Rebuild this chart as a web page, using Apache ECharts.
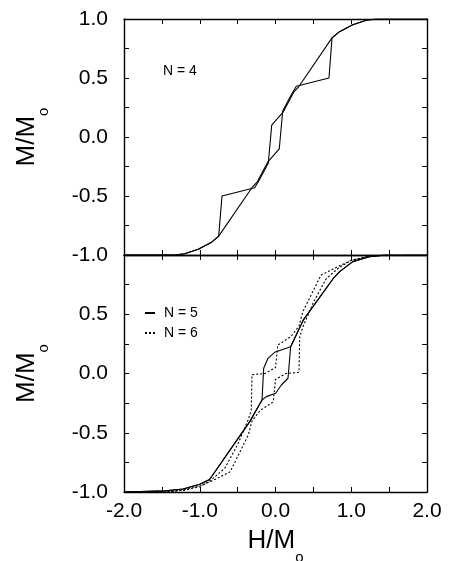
<!DOCTYPE html>
<html><head><meta charset="utf-8">
<script src="https://cdn.jsdelivr.net/npm/echarts@6/dist/echarts.min.js"></script>
<style>html,body{margin:0;padding:0;background:#fff}#c{width:449px;height:561px}</style>
</head><body><div id="c"></div>
<script>
// ---- data (H/Mo, M/Mo) ----
const n4Up = [[-2,-1],[-1.33,-1],[-1.2,-0.989],[-1.02,-0.952],[-0.85,-0.895],[-0.75,-0.84],[-0.30,-0.42],[-0.24,-0.38],[-0.10,-0.21],[0.05,-0.10],[0.095,0.22],[0.21,0.36],[0.275,0.43],[0.706,0.50],[0.746,0.84],[0.85,0.895],[1.02,0.952],[1.2,0.989],[1.33,1],[2,1]];
const n4Down = [[2,1],[1.33,1],[1.2,0.989],[1.02,0.952],[0.85,0.895],[0.746,0.84],[0.30,0.42],[0.24,0.38],[0.10,0.21],[-0.05,0.10],[-0.095,-0.22],[-0.21,-0.36],[-0.275,-0.43],[-0.706,-0.50],[-0.75,-0.84],[-0.85,-0.895],[-1.02,-0.952],[-1.2,-0.989],[-1.33,-1],[-2,-1]];
const n5Up = [[-2,-1],[-1.45,-0.99],[-1.22,-0.975],[-1.0,-0.935],[-0.87,-0.895],[-0.34,-0.406],[-0.178,-0.224],[-0.121,-0.195],[0.002,-0.167],[0.077,-0.097],[0.165,-0.04],[0.2,0.226],[0.366,0.45],[0.76,0.80],[0.847,0.86],[1.02,0.944],[1.24,0.986],[1.45,1],[2,1]];
const n5Down = [[2,1],[1.45,1],[1.24,0.986],[1.02,0.944],[0.847,0.86],[0.76,0.80],[0.366,0.45],[0.2,0.226],[-0.011,0.179],[-0.099,0.128],[-0.156,0.044],[-0.178,-0.224],[-0.34,-0.406],[-0.87,-0.895],[-1.0,-0.935],[-1.22,-0.975],[-1.45,-0.99],[-2,-1]];
const n6Up = [[-2,-1],[-1.4,-0.995],[-1.2,-0.98],[-1.0,-0.95],[-0.85,-0.91],[-0.6,-0.83],[-0.36,-0.52],[-0.31,-0.40],[-0.2,-0.31],[-0.03,-0.24],[0.0,-0.05],[0.14,0.0],[0.31,0.01],[0.32,0.31],[0.36,0.39],[0.5,0.6],[0.67,0.80],[0.85,0.9],[1.0,0.955],[1.2,0.985],[1.4,0.997],[2,1]];
const n6Down = [[2,1],[1.4,0.997],[1.2,0.985],[1.0,0.955],[0.85,0.91],[0.6,0.83],[0.36,0.52],[0.31,0.40],[0.2,0.31],[0.03,0.24],[0.0,0.05],[-0.14,0.0],[-0.31,-0.01],[-0.32,-0.31],[-0.36,-0.39],[-0.5,-0.6],[-0.67,-0.80],[-0.85,-0.9],[-1.0,-0.955],[-1.2,-0.985],[-1.4,-0.997],[-2,-1]];
const seriesNames = ['N = 4','N = 5','N = 6'];

const FONT = 'Liberation Sans';
const axisLineStyle = {show:true, onZero:false, lineStyle:{color:'#000', width:1.4}};
const tickStyle = {show:true, inside:true, length:5, lineStyle:{color:'#000', width:1}};

function xAxis(grid, pos, labels) {
  return {type:'value', gridIndex:grid, position:pos, min:-2, max:2, interval:0.5,
    axisLine:axisLineStyle, axisTick:tickStyle, splitLine:{show:false},
    axisLabel:{show:labels, margin:9, color:'#000', fontFamily:FONT, fontSize:21,
      formatter:v=>Math.abs(v-Math.round(v))<1e-6 ? (Math.abs(v)<1e-9?0:v).toFixed(1) : ''}};
}
function yAxis(grid, pos, labels, skipTop) {
  return {type:'value', gridIndex:grid, position:pos, min:-1, max:1, interval:0.25,
    axisLine:axisLineStyle, axisTick:tickStyle, splitLine:{show:false},
    axisLabel:{show:labels, margin:16, color:'#000', fontFamily:FONT, fontSize:21,
      formatter:v=>{ if (Math.abs(v*2-Math.round(v*2))>1e-6) return ''; if (skipTop && v>0.99) return ''; return (Math.abs(v)<1e-9?0:v).toFixed(1);}}};
}
const yName = {name:'M/M{o|o}', nameLocation:'middle', nameGap:84, nameMoveOverlap:false,
  nameTextStyle:{color:'#000', fontFamily:FONT, fontSize:26,
    rich:{o:{fontFamily:FONT, fontSize:15, lineHeight:15, verticalAlign:'top', padding:[22,0,0,0], color:'#000'}}}};

const xa = [xAxis(0,'bottom',false), xAxis(0,'top',false), xAxis(1,'bottom',true), xAxis(1,'top',false)];
Object.assign(xa[2], {name:'H/M{o|o}', nameLocation:'middle', nameGap:36,
  nameTextStyle:{color:'#000', fontFamily:FONT, fontSize:26, verticalAlign:'top',
    rich:{o:{fontFamily:FONT, fontSize:15, lineHeight:15, verticalAlign:'top', padding:[22,0,0,0], color:'#000'}}}});
const ya = [Object.assign(yAxis(0,'left',true,false), yName), yAxis(0,'right',false,false),
            Object.assign(yAxis(1,'left',true,true), yName), yAxis(1,'right',false,false)];

function line(name, data, xi, yi, dotted) {
  return {name:name, type:'line', data:data, xAxisIndex:xi, yAxisIndex:yi, symbol:'none', showSymbol:false,
    lineStyle:{color:'#000', width:1.1, type: dotted ? [2,2] : 'solid'}, itemStyle:{color:'#000'}, silent:true};
}

const chart = echarts.init(document.getElementById('c'), null, {renderer:'canvas'});
chart.setOption({
  animation:false,
  backgroundColor:'#fff',
  grid:[{left:124, right:22, top:19, height:236, outerBoundsMode:'none'},
        {left:124, right:22, top:255, height:237, outerBoundsMode:'none'}],
  xAxis:xa, yAxis:ya,
  legend:{data:[seriesNames[1], seriesNames[2]], orient:'vertical', left:139, top:301, itemWidth:10, itemHeight:12, itemGap:6,
    itemStyle:{color:'rgba(0,0,0,0)', borderWidth:0, opacity:0},
    textStyle:{color:'#000', fontFamily:FONT, fontSize:14, padding:[0,0,0,4]}, selectedMode:false},
  graphic:[{type:'text', left:163, top:64, style:{text:seriesNames[0], fontFamily:FONT, fontSize:14, fill:'#000'}}],
  series:[line(seriesNames[0], n4Up, 0, 0), line(seriesNames[0], n4Down, 0, 0),
          line(seriesNames[1], n5Up, 2, 2), line(seriesNames[1], n5Down, 2, 2),
          line(seriesNames[2], n6Up, 2, 2, true), line(seriesNames[2], n6Down, 2, 2, true)]
});
</script></body></html>
